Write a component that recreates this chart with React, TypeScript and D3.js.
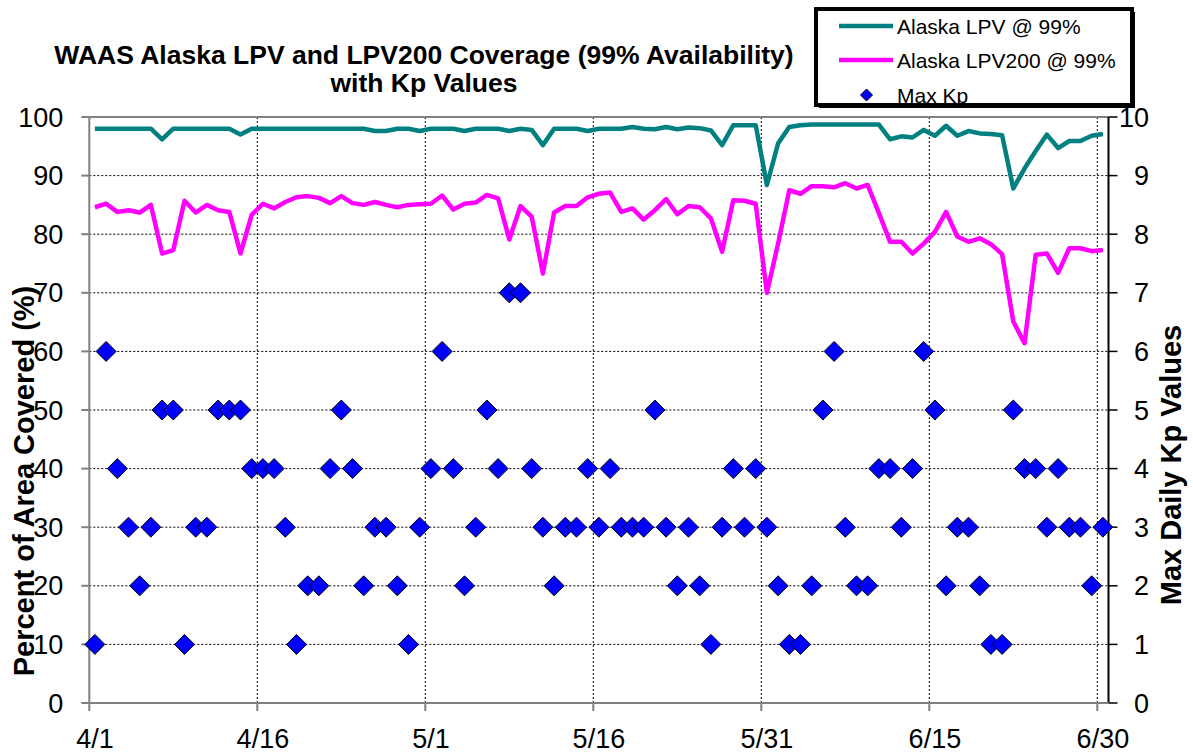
import React, { useRef, useEffect } from 'react';
import * as d3 from 'd3';

// day index 0 = 4/1 ... 90 = 6/30
const tickDays = [0, 15, 30, 45, 60, 75, 90];
const tickLabels = ['4/1', '4/16', '5/1', '5/16', '5/31', '6/15', '6/30'];
const leftTicks = [0, 10, 20, 30, 40, 50, 60, 70, 80, 90, 100];
const rightTicks = [0, 1, 2, 3, 4, 5, 6, 7, 8, 9, 10];

const lpv = [
  98, 98, 98, 98, 98, 98, 96.2, 98, 98, 98,
  98, 98, 98, 97, 98, 98, 98, 98, 98, 98,
  98, 98, 98, 98, 98, 97.6, 97.6, 98, 98, 97.6,
  98, 98, 98, 97.6, 98, 98, 98, 97.6, 98, 97.8,
  95.2, 98, 98, 98, 97.6, 98, 98, 98, 98.3, 98,
  97.9, 98.3, 97.9, 98.2, 98.1, 97.7, 95.2, 98.6, 98.6, 98.6,
  88.4, 95.5, 98.3, 98.6, 98.7, 98.7, 98.7, 98.7, 98.7, 98.7,
  98.7, 96.2, 96.7, 96.5, 97.8, 96.8, 98.5, 96.8, 97.6, 97.2,
  97.1, 96.9, 87.8, 91.2, 94.2, 97, 94.7, 95.9, 95.9, 96.8,
  97.1,
];

const lpv200 = [
  84.6, 85.2, 83.8, 84.1, 83.7, 85.0, 76.7, 77.3, 85.7, 83.7,
  85.0, 84.1, 83.8, 76.7, 83.3, 85.2, 84.4, 85.5, 86.3, 86.5,
  86.2, 85.3, 86.5, 85.3, 85.0, 85.5, 85.0, 84.6, 85.0, 85.1,
  85.2, 86.6, 84.2, 85.2, 85.4, 86.7, 86.1, 79.1, 84.8, 83.0,
  73.3, 83.7, 84.8, 84.8, 86.3, 86.9, 87.1, 83.8, 84.4, 82.5,
  84.1, 86.0, 83.4, 84.8, 84.6, 82.7, 77.0, 85.8, 85.7, 85.2,
  70.0, 78.4, 87.5, 86.9, 88.2, 88.2, 88.0, 88.7, 87.8, 88.4,
  83.6, 78.7, 78.7, 76.7, 78.4, 80.4, 83.8, 79.6, 78.7, 79.3,
  78.3, 76.6, 65.1, 61.4, 76.5, 76.7, 73.4, 77.6, 77.6, 77.1,
  77.3,
];

const maxKp = [
  1, 6, 4, 3, 2, 3, 5, 5, 1, 3,
  3, 5, 5, 5, 4, 4, 4, 3, 1, 2,
  2, 4, 5, 4, 2, 3, 3, 2, 1, 3,
  4, 6, 4, 2, 3, 5, 4, 7, 7, 4,
  3, 2, 3, 3, 4, 3, 4, 3, 3, 3,
  5, 3, 2, 3, 2, 1, 3, 4, 3, 4,
  3, 2, 1, 1, 2, 5, 6, 3, 2, 2,
  4, 4, 3, 4, 6, 5, 2, 3, 3, 2,
  1, 1, 5, 4, 4, 3, 4, 3, 3, 2,
  3,
];

const W = 1193;
const H = 754;
const plot = { left: 89.3, right: 1108.5, top: 117, bottom: 703 };
const font = '"Liberation Sans", Arial, sans-serif';

const App = () => {
  const chartRef = useRef(null);

  useEffect(() => {
    const root = d3.select(chartRef.current);
    root.selectAll('*').remove();
    const svg = root.attr('width', W).attr('height', H);

    svg.append('rect').attr('width', W).attr('height', H).attr('fill', '#fff');

    const x = d3.scaleLinear().domain([0, 91]).range([plot.left, plot.right]);
    const yL = d3.scaleLinear().domain([0, 100]).range([plot.bottom, plot.top]);
    const yR = d3.scaleLinear().domain([0, 10]).range([plot.bottom, plot.top]);

    // grid
    svg
      .append('g')
      .selectAll('line')
      .data(leftTicks.filter((t) => t > 0 && t < 100))
      .enter()
      .append('line')
      .attr('x1', plot.left)
      .attr('x2', plot.right)
      .attr('y1', (d) => yL(d))
      .attr('y2', (d) => yL(d))
      .attr('stroke', '#000')
      .attr('stroke-width', 1)
      .attr('stroke-dasharray', '2,2');

    svg
      .append('g')
      .selectAll('line')
      .data(tickDays.filter((t) => t > 0))
      .enter()
      .append('line')
      .attr('x1', (d) => x(d))
      .attr('x2', (d) => x(d))
      .attr('y1', plot.top)
      .attr('y2', plot.bottom)
      .attr('stroke', '#000')
      .attr('stroke-width', 1)
      .attr('stroke-dasharray', '2,2');

    // frame
    svg
      .append('line')
      .attr('x1', plot.left)
      .attr('x2', plot.right)
      .attr('y1', plot.top)
      .attr('y2', plot.top)
      .attr('stroke', '#808080')
      .attr('stroke-width', 2);

    // left axis
    const gL = svg.append('g').attr('transform', `translate(${plot.left},0)`);
    gL.append('line')
      .attr('y1', plot.top)
      .attr('y2', plot.bottom)
      .attr('stroke', '#808080')
      .attr('stroke-width', 2);
    gL.selectAll('.tk')
      .data(leftTicks)
      .enter()
      .append('line')
      .attr('x1', -8)
      .attr('x2', 0)
      .attr('y1', (d) => yL(d))
      .attr('y2', (d) => yL(d))
      .attr('stroke', '#808080')
      .attr('stroke-width', 2);
    gL.selectAll('text')
      .data(leftTicks)
      .enter()
      .append('text')
      .attr('x', -26)
      .attr('y', (d) => yL(d) + 9.5)
      .attr('text-anchor', 'end')
      .attr('font-family', font)
      .attr('font-size', 27)
      .text((d) => d);

    // right axis
    const gR = svg.append('g').attr('transform', `translate(${plot.right},0)`);
    gR.append('line')
      .attr('y1', plot.top)
      .attr('y2', plot.bottom)
      .attr('stroke', '#000')
      .attr('stroke-width', 2);
    gR.selectAll('.tk')
      .data(rightTicks)
      .enter()
      .append('line')
      .attr('x1', 0)
      .attr('x2', 9)
      .attr('y1', (d) => yR(d))
      .attr('y2', (d) => yR(d))
      .attr('stroke', '#000')
      .attr('stroke-width', 1.5);
    gR.selectAll('text')
      .data(rightTicks)
      .enter()
      .append('text')
      .attr('x', 40.5)
      .attr('y', (d) => yR(d) + 9.5)
      .attr('text-anchor', 'end')
      .attr('font-family', font)
      .attr('font-size', 27)
      .text((d) => d);

    // bottom axis
    const gB = svg.append('g').attr('transform', `translate(0,${plot.bottom})`);
    gB.append('line')
      .attr('x1', plot.left)
      .attr('x2', plot.right)
      .attr('stroke', '#808080')
      .attr('stroke-width', 2);
    gB.selectAll('.tk')
      .data(tickDays)
      .enter()
      .append('line')
      .attr('x1', (d) => x(d))
      .attr('x2', (d) => x(d))
      .attr('y1', 0)
      .attr('y2', 8)
      .attr('stroke', '#808080')
      .attr('stroke-width', 2);
    gB.selectAll('text')
      .data(tickDays)
      .enter()
      .append('text')
      .attr('x', (d) => x(d + 0.5))
      .attr('y', 45)
      .attr('text-anchor', 'middle')
      .attr('font-family', font)
      .attr('font-size', 27)
      .text((d, i) => tickLabels[i]);

    // lines
    const lineL = d3
      .line()
      .x((d, i) => x(i + 0.5))
      .y((d) => yL(d));

    svg
      .append('path')
      .datum(lpv)
      .attr('fill', 'none')
      .attr('stroke', '#008080')
      .attr('stroke-width', 4.5)
      .attr('stroke-linejoin', 'round')
      .attr('d', lineL);

    svg
      .append('path')
      .datum(lpv200)
      .attr('fill', 'none')
      .attr('stroke', '#FF00FF')
      .attr('stroke-width', 4.5)
      .attr('stroke-linejoin', 'round')
      .attr('d', lineL);

    // Kp diamonds
    const diamond = (r) => `M0,${-r}L${r},0L0,${r}L${-r},0Z`;
    svg
      .append('g')
      .selectAll('path')
      .data(maxKp)
      .enter()
      .append('path')
      .attr('transform', (d, i) => `translate(${x(i + 0.5)},${yR(d)})`)
      .attr('d', diamond(10))
      .attr('fill', '#0000FF')
      .attr('stroke', '#000')
      .attr('stroke-width', 1);

    // titles
    const title = svg
      .append('text')
      .attr('text-anchor', 'middle')
      .attr('font-family', font)
      .attr('font-weight', 'bold')
      .attr('font-size', 26.5);
    title.append('tspan').attr('x', 424).attr('y', 64).text('WAAS Alaska LPV and LPV200 Coverage (99% Availability)');
    title.append('tspan').attr('x', 424).attr('y', 92).text('with Kp Values');

    svg
      .append('text')
      .attr('transform', `translate(34,481) rotate(-90)`)
      .attr('text-anchor', 'middle')
      .attr('font-family', font)
      .attr('font-weight', 'bold')
      .attr('font-size', 29)
      .text('Percent of Area Covered (%)');

    svg
      .append('text')
      .attr('transform', `translate(1181,465) rotate(-90)`)
      .attr('text-anchor', 'middle')
      .attr('font-family', font)
      .attr('font-weight', 'bold')
      .attr('font-size', 29)
      .text('Max Daily Kp Values');

    // legend
    const lg = svg.append('g');
    lg.append('rect')
      .attr('x', 819)
      .attr('y', 12)
      .attr('width', 316)
      .attr('height', 96)
      .attr('fill', '#000');
    lg.append('rect')
      .attr('x', 816)
      .attr('y', 9)
      .attr('width', 316)
      .attr('height', 96)
      .attr('fill', '#fff')
      .attr('stroke', '#000')
      .attr('stroke-width', 4);
    const items = [
      { label: 'Alaska LPV @ 99%', color: '#008080', y: 26 },
      { label: 'Alaska LPV200 @ 99%', color: '#FF00FF', y: 60 },
      { label: 'Max Kp', color: '#0000FF', y: 95 },
    ];
    items.forEach((it, i) => {
      if (i < 2) {
        lg.append('line')
          .attr('x1', 839)
          .attr('x2', 893)
          .attr('y1', it.y)
          .attr('y2', it.y)
          .attr('stroke', it.color)
          .attr('stroke-width', 4.5);
      } else {
        lg.append('path')
          .attr('transform', `translate(866.5,${it.y})`)
          .attr('d', diamond(6))
          .attr('fill', it.color)
          .attr('stroke', '#000')
          .attr('stroke-width', 1);
      }
      lg.append('text')
        .attr('x', 897)
        .attr('y', it.y + 7.5)
        .attr('font-family', font)
        .attr('font-size', 21)
        .text(it.label);
    });
  }, []);

  return (
    <div>
      <svg ref={chartRef} style={{ position: 'absolute', left: 0, top: 0, display: 'block' }}></svg>
    </div>
  );
};

export default App;
